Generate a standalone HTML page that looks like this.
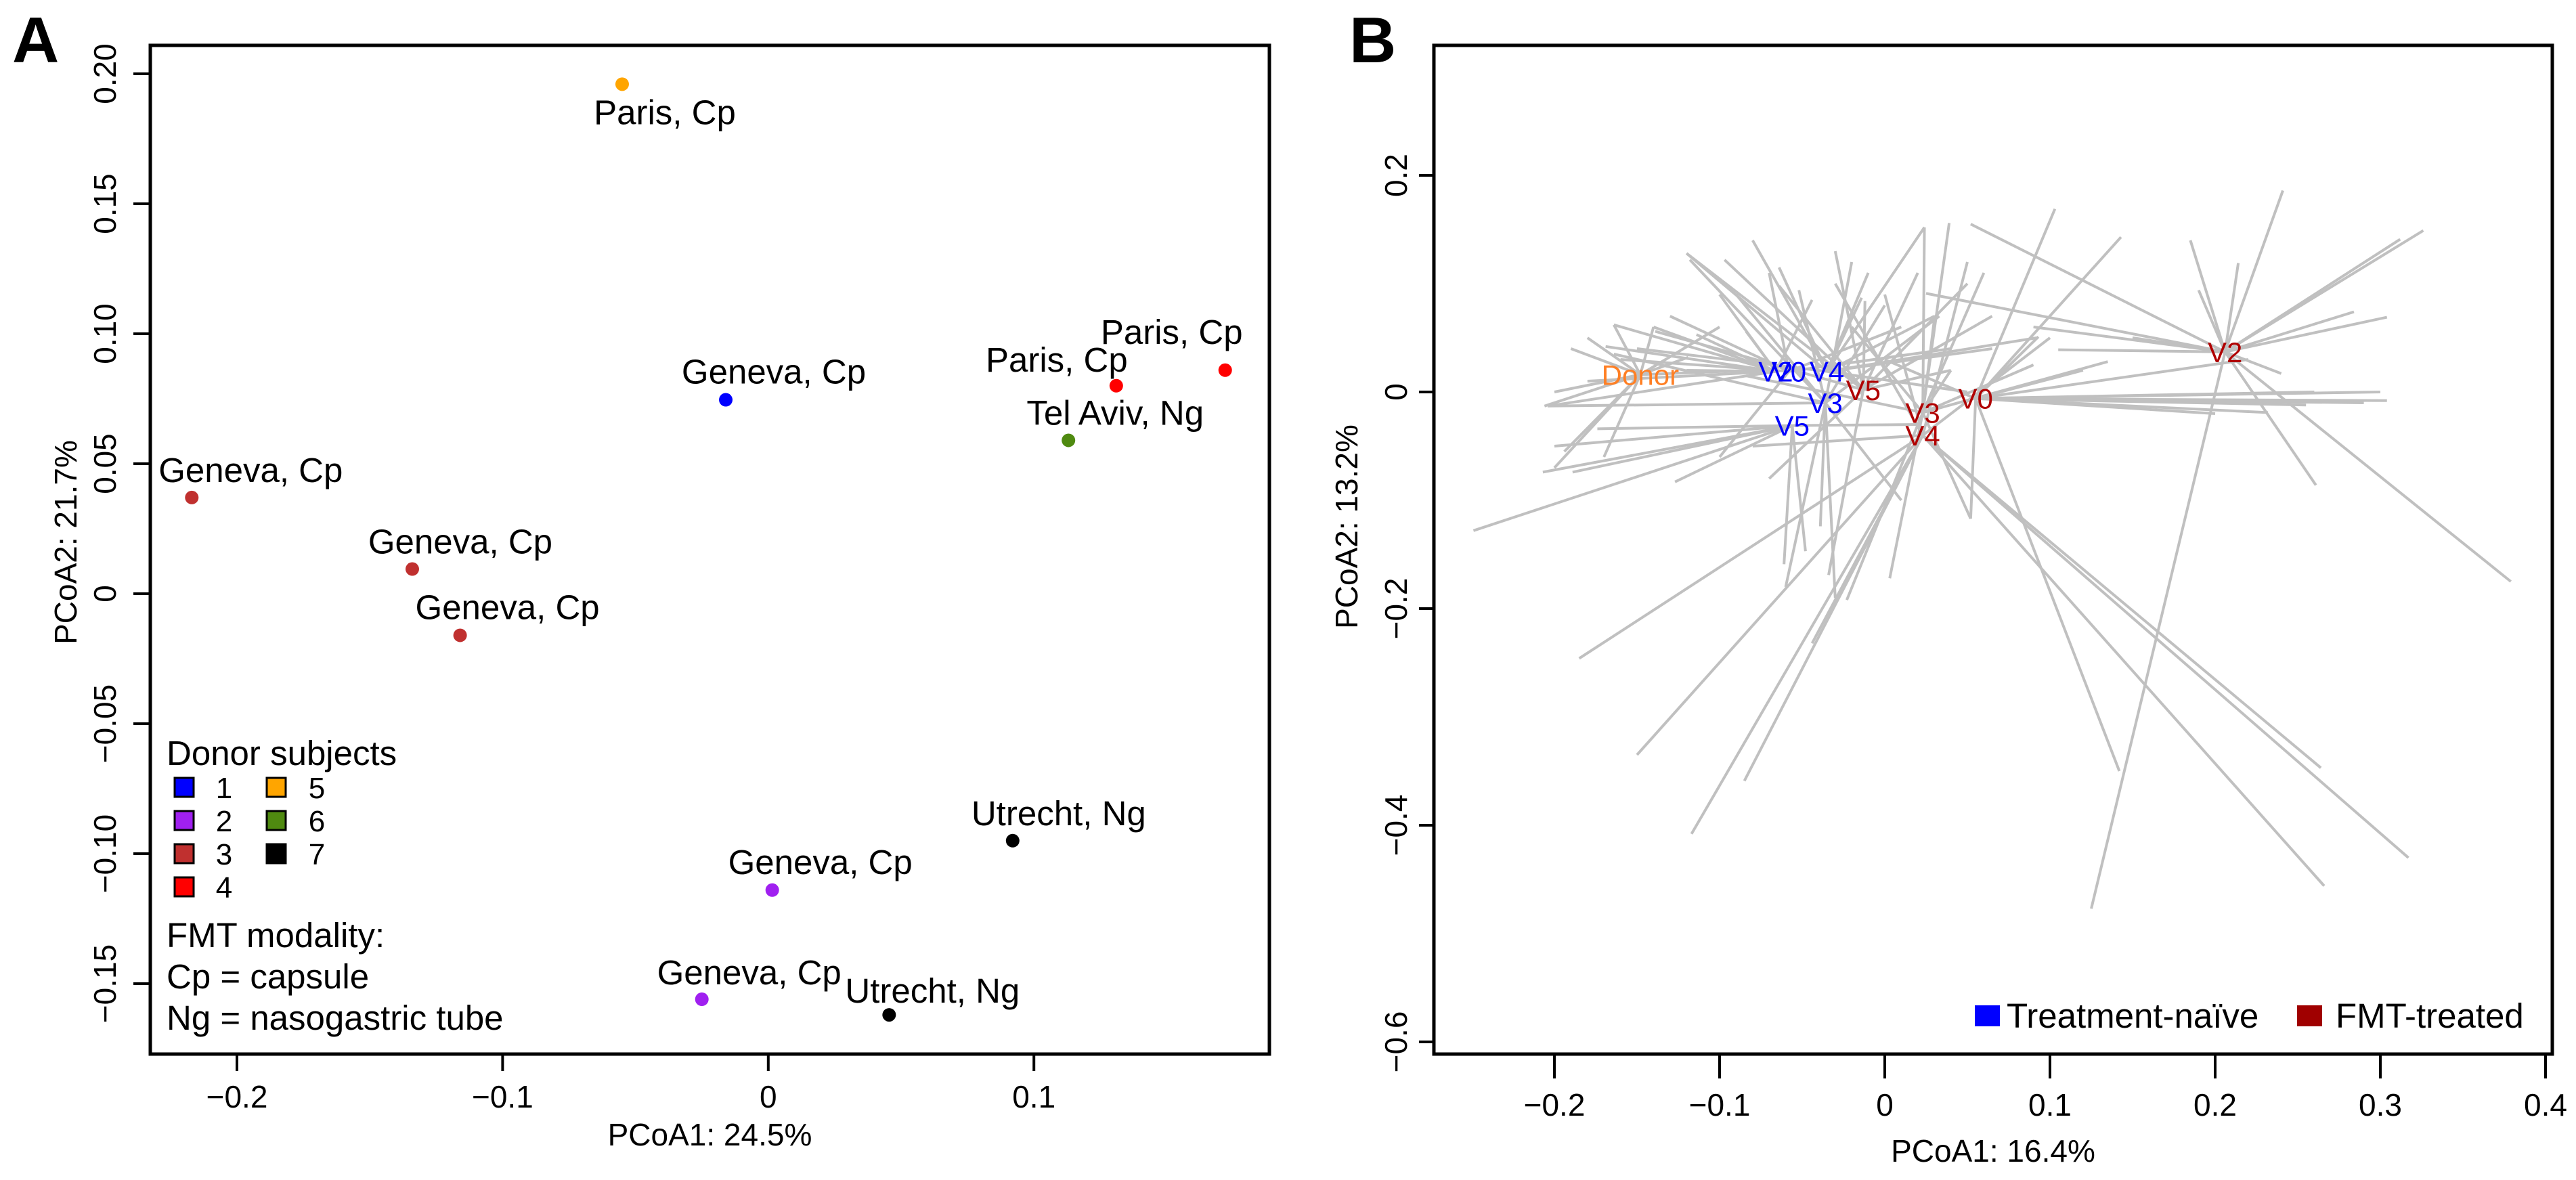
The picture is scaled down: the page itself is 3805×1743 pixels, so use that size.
<!DOCTYPE html>
<html><head><meta charset="utf-8"><style>
html,body{margin:0;padding:0;background:#fff;}
svg{display:block;font-family:"Liberation Sans",Arial,sans-serif;}
</style></head><body>
<svg id="fig" width="3805" height="1743" viewBox="0 0 3805 1743" xmlns="http://www.w3.org/2000/svg">
<rect width="3805" height="1743" fill="#fff"/>
<g id="panelA"></g>
<g id="panelB"></g>
</svg>
<script>
// ---------- Panel A data ----------
const aX = [-0.055,-0.016,0.131,0.172,0.113,-0.217,-0.134,-0.116,0.092,0.0015,-0.025,0.0455];
const aY = [0.196,0.0746,0.080,0.086,0.059,0.037,0.0095,-0.016,-0.095,-0.114,-0.156,-0.162];
const aDonor = [5,1,4,4,6,3,3,3,7,2,2,7];
const aLabels = ["Paris, Cp","Geneva, Cp","Paris, Cp","Paris, Cp","Tel Aviv, Ng","Geneva, Cp","Geneva, Cp","Geneva, Cp","Utrecht, Ng","Geneva, Cp","Geneva, Cp","Utrecht, Ng"];
const aLabelDx = [63,71,-88,-79,69,87,71,70,68,71,70,64];
const aLabelDy = [41,-42,-39,-57,-41,-41,-41,-42,-41,-42,-40,-36];
const aXTicks = [-0.2,-0.1,0,0.1];
const aXTickLabels = ["\u22120.2","\u22120.1","0","0.1"];
const aYTicks = [0.20,0.15,0.10,0.05,0,-0.05,-0.10,-0.15];
const aYTickLabels = ["0.20","0.15","0.10","0.05","0","\u22120.05","\u22120.10","\u22120.15"];
const donorIds = [1,2,3,4,5,6,7];

// ---------- Panel B data ----------
const bGroupLabels = ["Donor","V2","V0","V4","V3","V5","V5","V3","V4","V0","V2"];
const bGroupType = ["donor","naive","naive","naive","naive","naive","fmt","fmt","fmt","fmt","fmt"];
const bGroupX = [-0.148,-0.066,-0.058,-0.035,-0.036,-0.056,-0.013,0.023,0.023,0.055,0.206];
const bGroupY = [0.016,0.019,0.019,0.019,-0.010,-0.031,0.002,-0.019,-0.040,-0.006,0.037];
const bSegGroup = [
 10,10,10,10,10,10,10,10,10,10,10,10,10,10,10,10,10,
 9,9,9,9,9,9,9,9,9,9, 9,9,9,9,9,
 8,8,8,8,8,8,8,8, 8,8,8,8,8,
 7,7,7,7,7,7,7,7,7, 7,7,7,
 6,6,6,6,6,6,6,6, 6,6,6,6,
 5,5,5,5,5,5,5,5,5,
 4,4,4,4,4,4,4,4, 4,4,4,4,
 3,3,3,3,3,3,3,3, 3,3,3,
 1,1,1,1,1,1,1,1, 1,1,
 2,2,2,2,2,2,
 0,0,0,0,0,0,0,0,0,0, 0,0];
const bSegX = [
 0.241,0.185,0.326,0.312,0.190,0.214,0.284,0.304,0.240,0.261,0.379,0.125,0.052,0.025,0.105,0.150,0.090,
 0.304,0.255,0.232,0.142,0.103,0.143,0.093,0.052,0.120,0.000, 0.300,0.290,0.260,0.220,0.200,
 0.264,0.317,0.266,-0.185,-0.150,-0.117,-0.085,-0.044, 0.050,-0.030,0.100,-0.080,0.000,
 0.039,0.024,0.030,0.003,-0.023,-0.084,0.090,0.135,0.052, 0.060,0.040,-0.020,
 -0.012,-0.120,-0.097,-0.034,-0.064,0.065,-0.139,0.040, 0.050,-0.030,0.020,-0.070,
 -0.061,-0.249,-0.207,-0.189,-0.127,-0.174,-0.048,-0.200,0.020,
 -0.052,-0.118,-0.039,-0.164,-0.204,0.033,-0.030,0.010, -0.020,-0.090,0.000,-0.060,
 0.024,-0.014,-0.064,0.065,0.092,-0.120,0.030,-0.150, -0.080,0.050,-0.010,
 -0.164,-0.204,-0.169,-0.114,-0.084,-0.044,-0.140,-0.180, -0.100,-0.120,
 -0.130,-0.070,-0.160,0.010,-0.100,0.040,
 -0.164,-0.206,-0.180,-0.140,-0.194,-0.119,-0.080,-0.100,-0.200,-0.170, -0.200,-0.190];
const bSegY = [
 0.186,0.140,0.149,0.141,0.094,0.119,0.074,0.069,0.017,-0.086,-0.175,-0.477,0.155,0.091,0.039,0.050,0.060,
 -0.008,-0.012,-0.019,-0.350,0.169,0.143,0.051,-0.117,0.020,0.030, 0.000,-0.010,0.000,0.030,-0.020,
 -0.347,-0.430,-0.456,-0.246,-0.335,-0.408,-0.359,-0.232, 0.120,0.100,0.050,-0.050,0.090,
 0.156,0.152,0.067,-0.172,-0.192,0.015,0.025,0.028,-0.117, 0.110,0.020,0.060,
 0.084,0.128,0.122,-0.169,0.098,0.070,0.056,0.020, 0.100,0.130,0.110,-0.080,
 -0.159,-0.128,-0.074,-0.074,-0.083,-0.034,-0.147,-0.050,-0.030,
 0.094,0.122,-0.124,0.035,-0.013,0.070,-0.190,-0.100, 0.120,0.090,0.080,-0.180,
 0.152,0.087,0.115,0.040,0.050,0.128,0.070,0.040, 0.140,0.000,0.110,
 0.062,-0.013,0.042,0.053,0.056,0.085,0.060,0.010, 0.090,0.020,
 0.070,0.110,0.030,0.060,-0.060,0.040,
 0.062,-0.013,0.050,0.060,-0.055,0.032,0.020,0.060,-0.070,-0.060, 0.000,0.040];
const bXTicks = [-0.2,-0.1,0,0.1,0.2,0.3,0.4];
const bXTickLabels = ["\u22120.2","\u22120.1","0","0.1","0.2","0.3","0.4"];
const bYTicks = [0.2,0,-0.2,-0.4,-0.6];
const bYTickLabels = ["0.2","0","\u22120.2","\u22120.4","\u22120.6"];

// ---------- helpers ----------
const NS = "http://www.w3.org/2000/svg";
function mk(parent, tag, attrs, text){
  const e = document.createElementNS(NS, tag);
  for (const k in attrs) e.setAttribute(k, attrs[k]);
  if (text !== undefined) e.textContent = text;
  parent.appendChild(e);
  return e;
}
const donorColors = {1:"#0000ff",2:"#a020f0",3:"#c0302f",4:"#ff0000",5:"#ffa500",6:"#4f8a10",7:"#000000"};

// ---------- Panel A ----------
const A = document.getElementById("panelA");
const aL=222,aR=1875,aT=67,aB=1557;
const xA = v => 350 + (v + 0.2) * 3924;
const yA = v => 109 + (0.2 - v) * 3840;
let t;
t = mk(A,"text",{x:18,y:92,"font-size":96,"font-weight":"bold"},"A");


aXTicks.forEach((v,i)=>{
  const l = mk(A,"line",{x1:xA(v),x2:xA(v),y1:aB,y2:aB+25,stroke:"#000","stroke-width":4});
  
  
  const tx = mk(A,"text",{x:xA(v),y:1636,"font-size":46,"text-anchor":"middle"},aXTickLabels[i]);
  
  
});
aYTicks.forEach((v,i)=>{
  const l = mk(A,"line",{x1:aL-25,x2:aL,y1:yA(v),y2:yA(v),stroke:"#000","stroke-width":4});
  
  
  const tx = mk(A,"text",{x:0,y:0,"font-size":46,"text-anchor":"middle",transform:`translate(171,${yA(v)}) rotate(-90)`},aYTickLabels[i]);
  
  
});
t = mk(A,"text",{x:(aL+aR)/2,y:1692,"font-size":46,"text-anchor":"middle"},"PCoA1: 24.5%");


t = mk(A,"text",{x:0,y:0,"font-size":46,"text-anchor":"middle",transform:"translate(113,801) rotate(-90)"},"PCoA2: 21.7%");


aX.forEach((v,i)=>{
  const c = mk(A,"circle",{cx:xA(v),cy:yA(aY[i]),r:10,fill:donorColors[aDonor[i]]});
  
  
  const tx = mk(A,"text",{x:xA(v)+aLabelDx[i],y:yA(aY[i])+aLabelDy[i]+18,"font-size":51,"text-anchor":"middle"},aLabels[i]);
  
  
});
const legA = mk(A,"g",{});


t = mk(legA,"text",{x:246,y:1130,"font-size":51},"Donor subjects");


donorIds.forEach((d,i)=>{
  const col = i<4?0:1, row = i<4?i:i-4;
  const sx = col?394:258, nx = col?468:331, cy = 1163 + row*49;
  const r = mk(legA,"rect",{x:sx,y:cy-14,width:28,height:28,fill:donorColors[d],stroke:"#000","stroke-width":3});
  
  
  const tx = mk(legA,"text",{x:nx,y:cy+16,"font-size":44,"text-anchor":"middle"},String(d));
  
  
});
["FMT modality:","Cp = capsule","Ng = nasogastric tube"].forEach((s,i)=>{
  const tx = mk(legA,"text",{x:246,y:1399+i*61,"font-size":51},s);
  
  
});
t = mk(A,"rect",{x:aL,y:aT,width:aR-aL,height:aB-aT,fill:"none",stroke:"#000","stroke-width":5});



// ---------- Panel B ----------
const B = document.getElementById("panelB");
const bL=2118,bR=3770,bT=67,bB=1557;
const xB = v => 2784 + v * 2440;
const yB = v => 579 - v * 1600;
t = mk(B,"text",{x:1993,y:92,"font-size":96,"font-weight":"bold"},"B");


bSegGroup.forEach((g,i)=>{
  const l = mk(B,"line",{x1:xB(bGroupX[g]),y1:yB(bGroupY[g]),x2:xB(bSegX[i]),y2:yB(bSegY[i]),stroke:"#c0c0c0","stroke-width":4});
  
  
});
const typeCol = {donor:"#ff7f24",naive:"#0000ff",fmt:"#b00000"};
bGroupLabels.forEach((s,i)=>{
  const tx = mk(B,"text",{x:xB(bGroupX[i]),y:yB(bGroupY[i])+15,"font-size":42,"text-anchor":"middle",fill:typeCol[bGroupType[i]]},s);
  
  
});
bXTicks.forEach((v,i)=>{
  const l = mk(B,"line",{x1:xB(v),x2:xB(v),y1:bB,y2:bB+36,stroke:"#000","stroke-width":4});
  
  
  const tx = mk(B,"text",{x:xB(v),y:1648,"font-size":46,"text-anchor":"middle"},bXTickLabels[i]);
  
  
});
bYTicks.forEach((v,i)=>{
  const l = mk(B,"line",{x1:bL-22,x2:bL,y1:yB(v),y2:yB(v),stroke:"#000","stroke-width":4});
  
  
  const tx = mk(B,"text",{x:0,y:0,"font-size":46,"text-anchor":"middle",transform:`translate(2078,${yB(v)}) rotate(-90)`},bYTickLabels[i]);
  
  
});
t = mk(B,"text",{x:(bL+bR)/2,y:1716,"font-size":46,"text-anchor":"middle"},"PCoA1: 16.4%");


t = mk(B,"text",{x:0,y:0,"font-size":46,"text-anchor":"middle",transform:"translate(2005,778) rotate(-90)"},"PCoA2: 13.2%");


const legB = mk(B,"g",{});


t = mk(legB,"rect",{x:2917,y:1485,width:37,height:31,fill:"#0000ff"});


t = mk(legB,"text",{x:2964,y:1518,"font-size":51},"Treatment-na\u00efve");


t = mk(legB,"rect",{x:3393,y:1485,width:37,height:31,fill:"#a00000"});


t = mk(legB,"text",{x:3450,y:1518,"font-size":51},"FMT-treated");


t = mk(B,"rect",{x:bL,y:bT,width:bR-bL,height:bB-bT,fill:"none",stroke:"#000","stroke-width":5});


</script>
</body></html>
